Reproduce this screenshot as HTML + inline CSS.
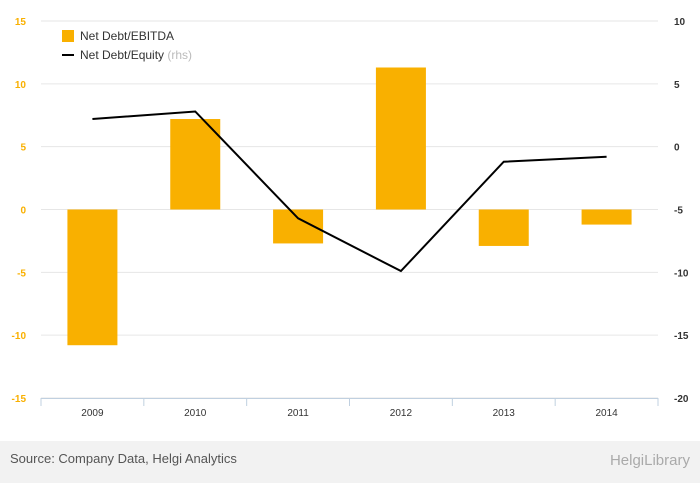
<!DOCTYPE html>
<html><head><meta charset="utf-8"><style>
body{margin:0;background:#fff;font-family:"Liberation Sans",sans-serif;}
svg text{font-family:"Liberation Sans",sans-serif;}
</style></head><body>
<svg id="chart" width="700" height="483" viewBox="0 0 700 483" xmlns="http://www.w3.org/2000/svg">
<rect x="0" y="0" width="700" height="483" fill="#fff"/>
<g id="grid"></g><g id="bars"></g><g id="line"></g><g id="axes"></g>
<g>
<rect x="62" y="30" width="12" height="12" fill="#f9b000"/>
<text x="80" y="40" font-size="12" fill="#333">Net Debt/EBITDA</text>
<line x1="62" y1="55" x2="74" y2="55" stroke="#000" stroke-width="2"/>
<text x="80" y="59" font-size="12" fill="#333">Net Debt/Equity <tspan fill="#bbb">(rhs)</tspan></text>
</g>
<rect x="0" y="441" width="700" height="42" fill="#f2f2f2"/>
<text x="10" y="463" font-size="13" fill="#555">Source: Company Data, Helgi Analytics</text>
<text x="690" y="465" font-size="15" fill="#aaa" text-anchor="end">HelgiLibrary</text>
</svg>
<script>
const categories=["2009","2010","2011","2012","2013","2014"];
const ebitda=[-10.8,7.2,-2.7,11.3,-2.9,-1.2];
const equity=[2.2,2.8,-5.7,-9.9,-1.2,-0.8];
const leftTicks=[15,10,5,0,-5,-10,-15];
const rightTicks=[10,5,0,-5,-10,-15,-20];
const NS="http://www.w3.org/2000/svg";
const x0=41,x1=658,yTop=21,yBot=398;
const yL=v=>yTop+(15-v)/30*(yBot-yTop);
const yR=v=>yTop+(10-v)/30*(yBot-yTop);
const bw=(x1-x0)/categories.length;
const xc=i=>x0+bw*(i+0.5);
function mk(p,tag,a){const e=document.createElementNS(NS,tag);for(const k in a)e.setAttribute(k,a[k]);document.getElementById(p).appendChild(e);return e;}
leftTicks.forEach(t=>{
 const g=mk('grid','line',{x1:x0,x2:x1,y1:yL(t),y2:yL(t),stroke:'#e6e6e6'});
 
 
 const a=mk('axes','text',{x:26,y:yL(t)+4,'font-size':10,fill:'#f9b000','text-anchor':'end','font-weight':'bold'});a.textContent=t;
 
 
});
rightTicks.forEach(t=>{
 const a=mk('axes','text',{x:674,y:yR(t)+4,'font-size':10,fill:'#333','font-weight':'bold'});a.textContent=t;
 
 
});
const ax=mk('axes','line',{x1:x0,x2:x1,y1:yBot+0.5,y2:yBot+0.5,stroke:'#c0d0e0'});


for(let i=0;i<=categories.length;i++){const tk=mk('axes','line',{x1:x0+bw*i,x2:x0+bw*i,y1:yBot,y2:yBot+8,stroke:'#c0d0e0'});
 
 }
categories.forEach((c,i)=>{
 const t=mk('axes','text',{x:xc(i),y:yBot+18,'font-size':10,fill:'#333','text-anchor':'middle'});t.textContent=c;
 
 
 const v=ebitda[i];const y=Math.min(yL(v),yL(0));
 const b=mk('bars','rect',{x:xc(i)-25,y:y,width:50,height:Math.abs(yL(v)-yL(0)),fill:'#f9b000'});
 
 
});
const l=mk('line','polyline',{points:equity.map((v,i)=>xc(i)+','+yR(v)).join(' '),fill:'none',stroke:'#000','stroke-width':2});


</script>
</body></html>
